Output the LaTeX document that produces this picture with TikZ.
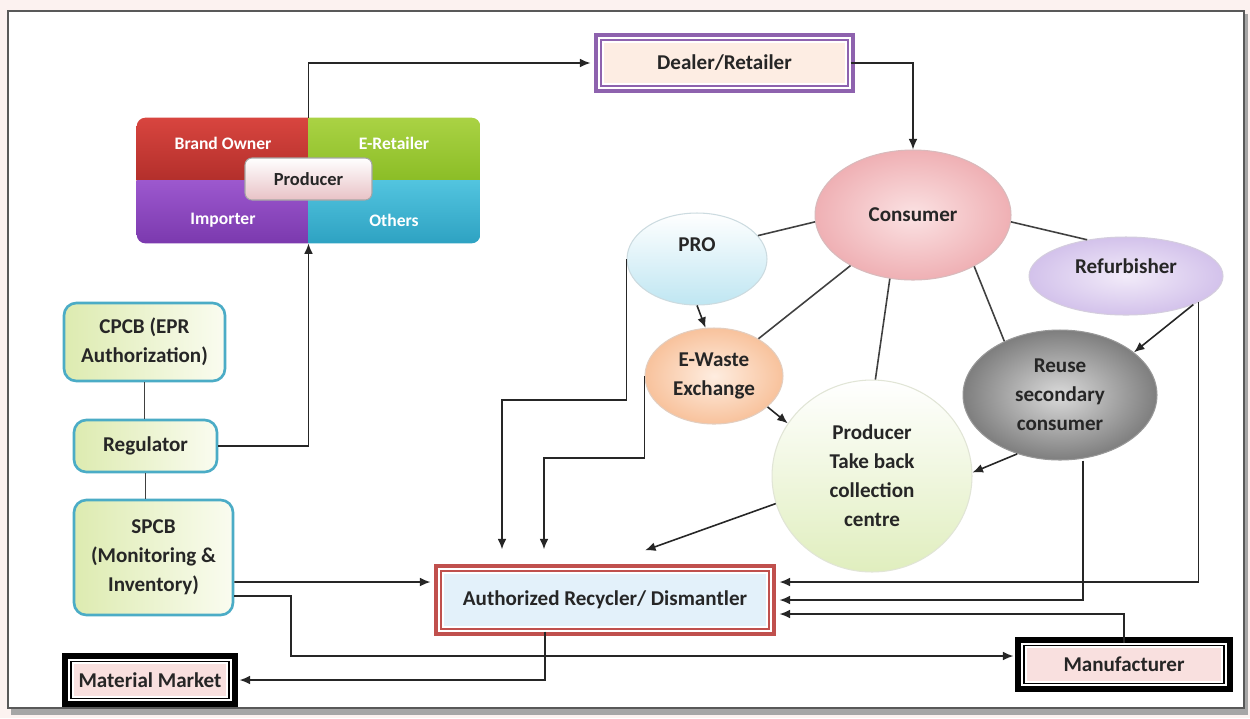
\documentclass[tikz,border=0pt]{standalone}
\usepackage{fontspec}
\setmainfont{Carlito}
\usetikzlibrary{shapes.geometric, arrows.meta}

\definecolor{bgpink}{HTML}{FCF2F0}
\definecolor{framepurple}{HTML}{8E62AE}
\definecolor{dealerfill}{HTML}{FDEDE3}
\definecolor{recred}{HTML}{C0504D}
\definecolor{recfill}{HTML}{E3F1FA}
\definecolor{boxpink}{HTML}{F9E0DF}
\definecolor{regteal}{HTML}{4BACC6}
\definecolor{reggreen}{HTML}{DDEBB0}
\definecolor{regwhite}{HTML}{FAFCF0}
\definecolor{brandtop}{HTML}{D8453F}
\definecolor{brandbot}{HTML}{B32F2B}
\definecolor{retailtop}{HTML}{AAD244}
\definecolor{retailbot}{HTML}{8BBD26}
\definecolor{imptop}{HTML}{9C58CE}
\definecolor{impbot}{HTML}{7B39AE}
\definecolor{otherstop}{HTML}{52C4DF}
\definecolor{othersbot}{HTML}{2EA2C2}
\definecolor{prodpink}{HTML}{E8C2C6}
\definecolor{conin}{HTML}{FBE2E3}
\definecolor{conout}{HTML}{EFB0B4}
\definecolor{problue}{HTML}{BFE6F2}
\definecolor{ewin}{HTML}{FEEDE0}
\definecolor{ewout}{HTML}{F8C29C}
\definecolor{refin}{HTML}{F2EBF9}
\definecolor{refout}{HTML}{D3C2EB}
\definecolor{takegreen}{HTML}{E0EEBE}
\definecolor{reusein}{HTML}{DADADA}
\definecolor{reuseout}{HTML}{7E7E7E}

\begin{document}
\begin{tikzpicture}[x=0.02cm, y=-0.02cm, >={Latex[length=6pt,width=5pt]},
    every node/.style={font=\bfseries\fontsize{12}{16.5}\selectfont, text=black!85, align=center, inner sep=0pt},
    arr/.style={->, line width=0.9pt, black!85},
    into/.style={arr, shorten >=4.5pt},
    link/.style={line width=0.9pt, black!75},
    framed/.style n args={3}{fill=#2, draw=white, line width=3pt,
        preaction={draw=#1, line width=#3}, postaction={draw=#1, line width=0.8pt}},
    regbox/.style={rectangle, rounded corners=7pt, draw=regteal, line width=1.5pt,
        left color=reggreen, right color=regwhite},
    blob/.style={ellipse, inner sep=0pt, line width=0.6pt},
    quad/.style={text=white, font=\bfseries\fontsize{10}{12}\selectfont}]

    % page and frame
    \fill[bgpink] (0,0) rectangle (1250,718);
    \fill[black!35] (11,14) rectangle (1248,715);
    \filldraw[fill=white, draw=black!65, line width=1pt] (8,11) rectangle (1244,708);
    \useasboundingbox (0,0) rectangle (1250,718);

    % producer group
    \node[minimum width=6.86cm, minimum height=2.5cm] (prodgrp) at (308.5,180.5) {};
    \begin{scope}
        \clip[rounded corners=5pt] (prodgrp.south west) rectangle (prodgrp.north east);
        \shade[top color=brandtop, bottom color=brandbot] (prodgrp.north west) rectangle (prodgrp.center);
        \shade[top color=retailtop, bottom color=retailbot] (prodgrp.north east) rectangle (prodgrp.center);
        \shade[top color=imptop, bottom color=impbot] (prodgrp.south west) rectangle (prodgrp.center);
        \shade[top color=otherstop, bottom color=othersbot] (prodgrp.south east) rectangle (prodgrp.center);
    \end{scope}
    \node[quad] (brand) at (223,143) {Brand Owner};
    \node[quad] (eretail) at (394,143) {E-Retailer};
    \node[quad] (importer) at (223,220) {Importer};
    \node[quad] (others) at (394,220) {Others};
    \node[draw=black!35, line width=0.6pt, rounded corners=4pt, top color=white, bottom color=prodpink,
        minimum width=2.54cm, minimum height=0.84cm, font=\bfseries\fontsize{10.5}{12}\selectfont]
        (producer) at (308.5,179) {Producer};

    % boxes
    \node[framed={framepurple}{dealerfill}{8pt}, minimum width=4.94cm, minimum height=0.92cm]
        (dealer) at (724.5,63) {Dealer/Retailer};
    \node[framed={recred}{recfill}{8pt}, minimum width=6.56cm, minimum height=1.16cm]
        (recycler) at (605,600) {Authorized Recycler/ Dismantler};
    \node[framed={black}{boxpink}{10pt}, minimum width=3.16cm, minimum height=0.73cm]
        (market) at (150,680) {Material Market};
    \node[framed={black}{boxpink}{10pt}, minimum width=4.0cm, minimum height=0.75cm]
        (manuf) at (1124,664.5) {Manufacturer};

    % regulators
    \node[regbox, minimum width=3.22cm, minimum height=1.56cm] (cpcb) at (144.5,342) {CPCB (EPR\\Authorization)};
    \node[regbox, minimum width=2.86cm, minimum height=1.04cm] (regulator) at (145.5,446) {Regulator};
    \node[regbox, minimum width=3.18cm, minimum height=2.3cm] (spcb) at (153.5,557.5) {SPCB\\(Monitoring \&\\Inventory)};

    % collection ellipses
    \node[blob, draw=conout!80!black!60, inner color=conin, outer color=conout,
        minimum width=3.92cm, minimum height=2.6cm] (consumer) at (913,215) {Consumer};
    \node[blob, draw=problue!80!black!50, top color=white, bottom color=problue, text depth=0.56cm,
        minimum width=2.8cm, minimum height=1.84cm] (pro) at (697,259) {PRO};
    \node[blob, draw=refout!80!black!50, inner color=refin, outer color=refout, text depth=0.4cm,
        minimum width=3.88cm, minimum height=1.56cm] (refurb) at (1126,276) {Refurbisher};
    \node[blob, draw=ewout!80!black!50, inner color=ewin, outer color=ewout,
        minimum width=2.76cm, minimum height=1.92cm] (ewaste) at (714,376) {E-Waste\\Exchange};
    \node[blob, draw=takegreen!80!black!40, top color=white, bottom color=takegreen,
        minimum width=4.0cm, minimum height=3.84cm] (takeback) at (872,476) {Producer\\Take back\\collection\\centre};
    \node[blob, draw=reuseout!80, inner color=reusein, outer color=reuseout,
        minimum width=3.88cm, minimum height=2.6cm] (reuse) at (1060,395) {Reuse\\secondary\\consumer};

    % bends
    \coordinate (kpro) at (502,400);
    \coordinate (kex) at (544,458);
    \coordinate (kspcb) at (291,656);

    % consumer links
    \draw[link] (consumer.184) -- (pro.21);
    \draw[link] (consumer.356) -- (refurb.137);
    \draw[link] (consumer.219) -- (ewaste.40);
    \draw[link] (consumer.250) -- (takeback.88);
    \draw[link] (consumer.320) -- (reuse.136);
    \draw[link] (cpcb.south) -- (cpcb.south |- regulator.north);
    \draw[link] (regulator.south) -- (regulator.south |- spcb.north);

    % flows
    \draw[into] (prodgrp.north) |- (dealer.west);
    \draw[arr] (dealer.east) -| (consumer.north);
    \draw[arr] (regulator.east) -| (prodgrp.south);
    \draw[arr] (pro.south) -- (ewaste.100);
    \draw[arr] (ewaste.330) -- (takeback.148);
    \draw[arr] (refurb.337) -- (reuse.30);
    \draw[arr] (reuse.234) -- (takeback.2);
    \draw[arr] (takeback.196) -- ([shift={(40,-18)}]recycler.north);
    \draw[arr, shorten >=0.38cm] (pro.west) |- (kpro) -- (kpro |- recycler.north);
    \draw[arr, shorten >=0.38cm] (ewaste.west) |- (kex) -- (kex |- recycler.north);
    \draw[into] (refurb.-20) |- ([yshift=0.36cm]recycler.east);
    \draw[into] ([xshift=0.46cm]reuse.south) |- (recycler.east);
    \draw[into] (manuf.north) |- ([yshift=-0.28cm]recycler.east);
    \draw[into] ([yshift=-0.49cm]spcb.east) -- ([yshift=0.36cm]recycler.west);
    \draw[into] ([yshift=-0.77cm]spcb.east) -| (kspcb) |- ([yshift=0.17cm]manuf.west);
    \draw[into] ([xshift=-1.2cm]recycler.south) |- (market.east);
\end{tikzpicture}
\end{document}
